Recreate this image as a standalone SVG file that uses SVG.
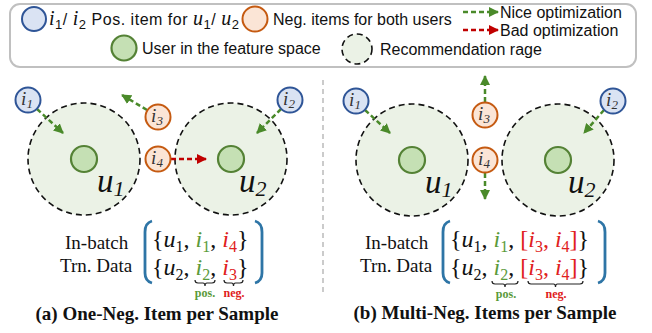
<svg xmlns="http://www.w3.org/2000/svg" width="652" height="333" viewBox="0 0 652 333">
<defs>
<marker id="ag" viewBox="0 0 10 10" refX="9" refY="5" markerWidth="4" markerHeight="4" orient="auto"><path d="M0,0 L10,5 L0,10 z" fill="#4a8a2a"/></marker>
<marker id="ar" viewBox="0 0 10 10" refX="9" refY="5" markerWidth="4" markerHeight="4" orient="auto"><path d="M0,0 L10,5 L0,10 z" fill="#c00000"/></marker>
<style>
.sans{font-family:"Liberation Sans",Arial,sans-serif;font-size:16px;fill:#111}
.m{font-family:"Liberation Serif","Times New Roman",serif;font-style:italic}
.ser{font-family:"Liberation Serif","Times New Roman",serif;fill:#111}
.pos{fill:#dae3f3;stroke:#2f5597;stroke-width:2}
.neg{fill:#fbe5d6;stroke:#c55a11;stroke-width:2}
.usr{fill:#c5e0b4;stroke:#548235;stroke-width:2.2}
.rng{fill:#ebf2e6;stroke:#111;stroke-width:1.6;stroke-dasharray:6 4}
.ga{stroke:#4a8a2a;stroke-width:2.5;stroke-dasharray:5 3;fill:none;marker-end:url(#ag)}
.ra{stroke:#c00000;stroke-width:2.5;stroke-dasharray:5 3;fill:none;marker-end:url(#ar)}
.il{font-family:"Liberation Serif","Times New Roman",serif;font-style:italic;font-size:19px;fill:#333;text-anchor:middle}
.ul{font-family:"Liberation Serif","Times New Roman",serif;font-style:italic;font-size:33px;fill:#111}
.gr{fill:#5a9a3a}
.rd{fill:#e02020}
.par{fill:none;stroke:#2e75a6;stroke-width:2.8}
.brc{fill:none;stroke:#222;stroke-width:1.2}
.mx{font-family:"Liberation Serif","Times New Roman",serif;font-size:24px;fill:#111}
.lab{font-family:"Liberation Serif","Times New Roman",serif;font-size:12px;font-weight:bold;text-anchor:middle}
.ttl{font-family:"Liberation Serif","Times New Roman",serif;font-size:19px;font-weight:bold;fill:#111;text-anchor:middle}
</style>
</defs>
<rect width="652" height="333" fill="#fff"/>

<g id="legend">
<rect x="10" y="4" width="626" height="63" rx="10" fill="#fff" stroke="#c0c0c0" stroke-width="2"/>
<circle cx="34" cy="19" r="12" class="pos"/>
<text x="49" y="25" class="sans" textLength="190" lengthAdjust="spacing"><tspan class="m" font-size="20">i</tspan><tspan font-size="13" dy="4">1</tspan><tspan dy="-4">/ </tspan><tspan class="m" font-size="20">i</tspan><tspan font-size="13" dy="4">2</tspan><tspan dy="-4"> Pos. item for </tspan><tspan class="m" font-size="20">u</tspan><tspan font-size="13" dy="4">1</tspan><tspan dy="-4">/ </tspan><tspan class="m" font-size="20">u</tspan><tspan font-size="13" dy="4">2</tspan></text>
<circle cx="255" cy="19" r="12.5" class="neg"/>
<text x="273" y="25" class="sans">Neg. items for both users</text>
<line x1="463" y1="12" x2="498" y2="12" class="ga"/>
<text x="500" y="18" class="sans">Nice optimization</text>
<line x1="463" y1="30" x2="498" y2="30" class="ra"/>
<text x="500" y="36" class="sans">Bad optimization</text>
<circle cx="124" cy="48" r="12.5" class="usr"/>
<text x="142" y="54" class="sans">User in the feature space</text>
<circle cx="357" cy="49" r="15" class="rng"/>
<text x="380" y="55" class="sans">Recommendation rage</text>
</g>

<line x1="323" y1="80" x2="323" y2="296" stroke="#bbb" stroke-width="1.5" stroke-dasharray="5 4"/>

<g id="a-u1">
<circle cx="84" cy="159" r="56" class="rng"/>
<circle cx="84" cy="159" r="13" class="usr"/>
<text x="97" y="192" class="ul">u<tspan font-size="22" dy="4">1</tspan></text>
</g>
<g id="a-u2">
<circle cx="231" cy="159" r="56" class="rng"/>
<circle cx="231" cy="159" r="13" class="usr"/>
<text x="239" y="192" class="ul">u<tspan font-size="22" dy="4">2</tspan></text>
</g>
<g id="a-connectors">
<line x1="37" y1="109" x2="63" y2="133" class="ga"/>
<line x1="147" y1="110" x2="122" y2="95" class="ga"/>
<line x1="281" y1="109" x2="257" y2="133" class="ga"/>
<line x1="171" y1="159" x2="206" y2="159" class="ra"/>
</g>
<g id="a-i1"><circle cx="28" cy="100" r="12.5" class="pos"/><text x="27" y="105" class="il">i<tspan font-size="13" dy="3">1</tspan></text></g>
<g id="a-i2"><circle cx="290" cy="100" r="12.5" class="pos"/><text x="289" y="105" class="il">i<tspan font-size="13" dy="3">2</tspan></text></g>
<g id="a-i3"><circle cx="158" cy="117" r="12.5" class="neg"/><text x="157" y="122" class="il">i<tspan font-size="13" dy="3">3</tspan></text></g>
<g id="a-i4"><circle cx="158" cy="159" r="12.5" class="neg"/><text x="157" y="164" class="il">i<tspan font-size="13" dy="3">4</tspan></text></g>

<g id="a-data">
<text x="65" y="249" class="ser" font-size="19">In-batch</text>
<text x="60" y="272" class="ser" font-size="19">Trn. Data</text>
<path d="M152,221 Q145,223 145,232 L145,273 Q145,281 152,283" class="par"/>
<path d="M255,221 Q262,223 262,232 L262,273 Q262,281 255,283" class="par"/>
<text x="152" y="247" class="mx">{<tspan class="m">u</tspan><tspan font-size="16" dy="5">1</tspan><tspan dy="-5">, </tspan><tspan class="m gr">i</tspan><tspan class="gr" font-size="16" dy="5">1</tspan><tspan dy="-5">, </tspan><tspan class="m rd">i</tspan><tspan class="rd" font-size="16" dy="5">4</tspan><tspan dy="-5">}</tspan></text>
<text x="152" y="275" class="mx">{<tspan class="m">u</tspan><tspan font-size="16" dy="5">2</tspan><tspan dy="-5">, </tspan><tspan class="m gr">i</tspan><tspan class="gr" font-size="16" dy="5">2</tspan><tspan dy="-5">, </tspan><tspan class="m rd">i</tspan><tspan class="rd" font-size="16" dy="5">3</tspan><tspan dy="-5">}</tspan></text>
<path d="M195,280 q0,3 3,3 h5 q2,0 2,3 q0,-3 2,-3 h5 q3,0 3,-3" class="brc"/>
<path d="M224,280 q0,3 3,3 h4.5 q2,0 2,3 q0,-3 2,-3 h4.5 q3,0 3,-3" class="brc"/>
<text x="205" y="297" class="lab gr">pos.</text>
<text x="234" y="297" class="lab rd">neg.</text>
<text x="157" y="320" class="ttl">(a) One-Neg. Item per Sample</text>
</g>

<g id="b-u1">
<circle cx="412" cy="160" r="56" class="rng"/>
<circle cx="412" cy="160" r="13" class="usr"/>
<text x="425" y="193" class="ul">u<tspan font-size="22" dy="4">1</tspan></text>
</g>
<g id="b-u2">
<circle cx="558" cy="160" r="56" class="rng"/>
<circle cx="558" cy="160" r="13" class="usr"/>
<text x="568" y="193" class="ul">u<tspan font-size="22" dy="4">2</tspan></text>
</g>
<g id="b-connectors">
<line x1="365" y1="110" x2="390" y2="133" class="ga"/>
<line x1="604" y1="110" x2="584" y2="133" class="ga"/>
<line x1="485" y1="102" x2="485" y2="76" class="ga"/>
<line x1="485" y1="173" x2="485" y2="199" class="ga"/>
</g>
<g id="b-i1"><circle cx="356" cy="101" r="12.5" class="pos"/><text x="355" y="106" class="il">i<tspan font-size="13" dy="3">1</tspan></text></g>
<g id="b-i2"><circle cx="613" cy="101" r="12.5" class="pos"/><text x="612" y="106" class="il">i<tspan font-size="13" dy="3">2</tspan></text></g>
<g id="b-i3"><circle cx="485" cy="115" r="12.5" class="neg"/><text x="484" y="120" class="il">i<tspan font-size="13" dy="3">3</tspan></text></g>
<g id="b-i4"><circle cx="485" cy="160" r="12.5" class="neg"/><text x="484" y="165" class="il">i<tspan font-size="13" dy="3">4</tspan></text></g>

<g id="b-data">
<text x="365" y="249" class="ser" font-size="19">In-batch</text>
<text x="360" y="272" class="ser" font-size="19">Trn. Data</text>
<path d="M450,221 Q443,223 443,232 L443,273 Q443,281 450,283" class="par"/>
<path d="M598,221 Q605,223 605,232 L605,273 Q605,281 598,283" class="par"/>
<text x="450" y="247" class="mx">{<tspan class="m">u</tspan><tspan font-size="16" dy="5">1</tspan><tspan dy="-5">, </tspan><tspan class="m gr">i</tspan><tspan class="gr" font-size="16" dy="5">1</tspan><tspan dy="-5">, </tspan><tspan class="rd">[</tspan><tspan class="m rd">i</tspan><tspan class="rd" font-size="16" dy="5">3</tspan><tspan class="rd" dy="-5">, </tspan><tspan class="m rd">i</tspan><tspan class="rd" font-size="16" dy="5">4</tspan><tspan class="rd" dy="-5">]</tspan><tspan>}</tspan></text>
<text x="450" y="275" class="mx">{<tspan class="m">u</tspan><tspan font-size="16" dy="5">2</tspan><tspan dy="-5">, </tspan><tspan class="m gr">i</tspan><tspan class="gr" font-size="16" dy="5">2</tspan><tspan dy="-5">, </tspan><tspan class="rd">[</tspan><tspan class="m rd">i</tspan><tspan class="rd" font-size="16" dy="5">3</tspan><tspan class="rd" dy="-5">, </tspan><tspan class="m rd">i</tspan><tspan class="rd" font-size="16" dy="5">4</tspan><tspan class="rd" dy="-5">]</tspan><tspan>}</tspan></text>
<path d="M492,281 q0,3 3,3 h8 q2,0 2,3 q0,-3 2,-3 h8 q3,0 3,-3" class="brc"/>
<path d="M528,281 q0,3 3,3 h22.5 q2,0 2,3 q0,-3 2,-3 h22.5 q3,0 3,-3" class="brc"/>
<text x="506" y="298" class="lab gr">pos.</text>
<text x="556" y="298" class="lab rd">neg.</text>
<text x="485" y="319" class="ttl">(b) Multi-Neg. Items per Sample</text>
</g>
</svg>
